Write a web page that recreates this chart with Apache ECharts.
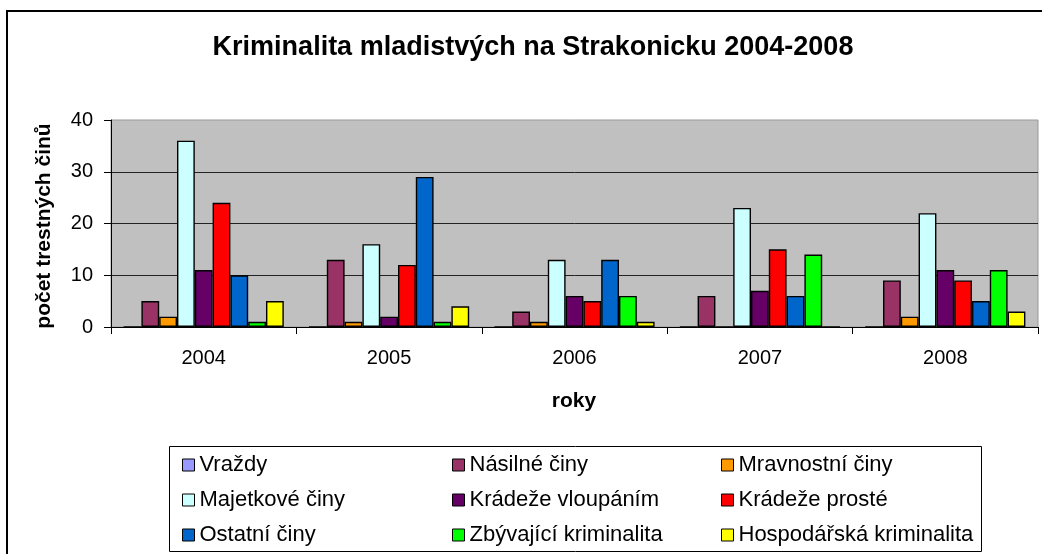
<!DOCTYPE html>
<html>
<head>
<meta charset="utf-8">
<script src="https://cdn.jsdelivr.net/npm/echarts@6/dist/echarts.min.js"></script>
<style>
html,body{margin:0;padding:0;background:#fff;}
#c{width:1042px;height:554px;}
</style>
</head>
<body>
<div id="c"></div>
<script>
const categories = ['2004', '2005', '2006', '2007', '2008'];
const seriesNames = ['Vraždy', 'Násilné činy', 'Mravnostní činy', 'Majetkové činy', 'Krádeže vloupáním', 'Krádeže prosté', 'Ostatní činy', 'Zbývající kriminalita', 'Hospodářská kriminalita'];
const vrazdy = [0, 0, 0, 0, 0];
const nasilne = [5, 13, 3, 6, 9];
const mravnostni = [2, 1, 1, 0, 2];
const majetkove = [36, 16, 13, 23, 22];
const vloupanim = [11, 2, 6, 7, 11];
const proste = [24, 12, 5, 15, 9];
const ostatni = [10, 29, 13, 6, 5];
const zbyvajici = [1, 1, 6, 14, 11];
const hospodarska = [5, 4, 1, 0, 3];
const seriesValues = [vrazdy, nasilne, mravnostni, majetkove, vloupanim, proste, ostatni, zbyvajici, hospodarska];
const colors = ['#9999FF', '#993366', '#FF9900', '#CCFFFF', '#660066', '#FF0000', '#0066CC', '#00FF00', '#FFFF00'];
const titleText = 'Kriminalita mladistvých na Strakonicku 2004-2008';
const yName = 'počet trestných činů';
const xName = 'roky';

const FONT = '"Liberation Sans", Arial, sans-serif';
const chart = echarts.init(document.getElementById('c'), null, {renderer: 'canvas'});

const legendCols = [[0, 3, 6], [1, 4, 7], [2, 5, 8]];
const legendLeft = [177, 447, 716];
const legends = legendCols.map((idx, i) => ({
  orient: 'vertical',
  left: legendLeft[i],
  top: 449,
  itemGap: 13,
  itemWidth: 12,
  itemHeight: 12,
  icon: 'rect',
  selectedMode: false,
  data: idx.map(k => seriesNames[k]),
  itemStyle: {borderColor: '#000', borderWidth: 1},
  textStyle: {fontFamily: FONT, fontSize: 22, color: '#000', lineHeight: 22, padding: [0, 0, 0, 0]}
}));

chart.setOption({
  animation: false,
  color: colors,
  textStyle: {fontFamily: FONT},
  grid: {
    left: 111, top: 120, right: 4, bottom: 227,
    show: true, backgroundColor: '#C0C0C0', borderColor: '#999', borderWidth: 1
  },
  legend: legends,
  graphic: [
    {type: 'rect', z: -10, shape: {x: 7, y: 11, width: 1100, height: 600}, style: {fill: 'none', stroke: '#000', lineWidth: 2}},
    {type: 'rect', z: -10, shape: {x: 169.5, y: 446.5, width: 812, height: 105}, style: {fill: 'none', stroke: '#000', lineWidth: 1}},
    {type: 'text', x: 533, y: 48, style: {text: titleText, font: 'bold 27px ' + FONT, fill: '#000', align: 'center', verticalAlign: 'middle'}},
    {type: 'text', x: 44, y: 226, rotation: Math.PI / 2, style: {text: yName, font: 'bold 21px ' + FONT, fill: '#000', align: 'center', verticalAlign: 'middle'}},
    {type: 'text', x: 574, y: 401, style: {text: xName, font: 'bold 21px ' + FONT, fill: '#000', align: 'center', verticalAlign: 'middle'}}
  ],
  xAxis: {
    type: 'category',
    data: categories,
    axisLine: {lineStyle: {color: '#000', width: 1}},
    axisTick: {show: true, length: 7, lineStyle: {color: '#000'}},
    axisLabel: {fontSize: 20, color: '#000', margin: 21, fontFamily: FONT},
    splitLine: {show: false}
  },
  yAxis: {
    type: 'value',
    min: 0, max: 40, interval: 10,
    axisLine: {show: true, lineStyle: {color: '#000', width: 1}},
    axisTick: {show: true, length: 7, lineStyle: {color: '#000'}},
    axisLabel: {fontSize: 20, color: '#000', margin: 18, fontFamily: FONT},
    splitLine: {show: true, showMaxLine: false, lineStyle: {color: '#222', width: 1}}
  },
  series: seriesNames.map((name, i) => ({
    name: name,
    type: 'bar',
    data: seriesValues[i],
    barGap: '0%',
    barCategoryGap: '13.6%',
    itemStyle: {color: colors[i], borderColor: '#000', borderWidth: 1.4}
  }))
});
</script>
</body>
</html>
